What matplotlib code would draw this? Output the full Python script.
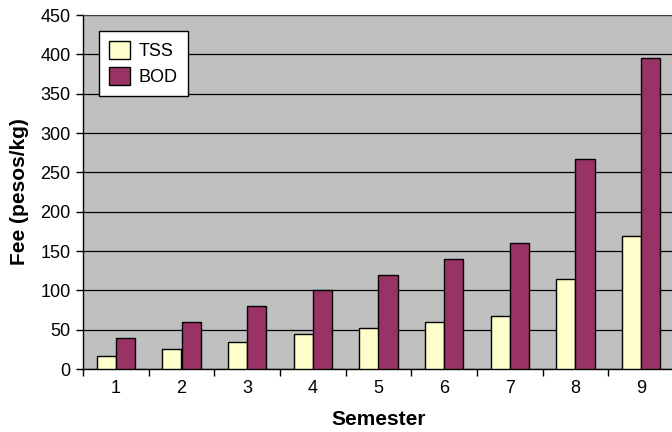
import numpy as np
import matplotlib
matplotlib.use("Agg")
import matplotlib.pyplot as plt
from matplotlib.ticker import FixedLocator

# data
semesters = [1, 2, 3, 4, 5, 6, 7, 8, 9]
tss_fee = [17, 25, 34, 44, 52, 60, 68, 115, 169]
bod_fee = [40, 60, 80, 100, 120, 140, 160, 267, 395]

plt.rcParams["font.family"] = ["Liberation Sans", "DejaVu Sans"]

fig = plt.figure(figsize=(6.72, 4.32), dpi=100)
ax = fig.add_axes([83 / 672, 63 / 432, 591 / 672, 354 / 432])
ax.set_facecolor("#C0C0C0")

x = np.arange(1, len(semesters) + 1)
width = 0.29
ax.bar(x - width / 2, tss_fee, width, color="#FFFFCC", edgecolor="black",
       linewidth=1.0, label="TSS", zorder=3)
ax.bar(x + width / 2, bod_fee, width, color="#993366", edgecolor="black",
       linewidth=1.0, label="BOD", zorder=3)

ax.set_xlim(0.5, len(semesters) + 0.5)
ax.set_ylim(0, 450)
ax.set_yticks(np.arange(0, 451, 50))
ax.yaxis.grid(True, color="black", linewidth=0.9, zorder=1)
ax.set_axisbelow(True)

ax.set_xticks(x)
ax.set_xticklabels([str(s) for s in semesters])
ax.xaxis.set_minor_locator(FixedLocator(np.arange(0.5, len(semesters) + 1, 1)))
ax.tick_params(axis="x", which="major", length=0, pad=8, labelsize=13)
ax.tick_params(axis="x", which="minor", length=5, width=1, direction="out")
ax.tick_params(axis="y", length=5, width=1, direction="out", pad=4, labelsize=13)

for side in ["left", "bottom"]:
    ax.spines[side].set_color("black")
    ax.spines[side].set_linewidth(1.0)
ax.spines["top"].set_color("#404040")
ax.spines["right"].set_visible(False)

ax.set_xlabel("Semester", fontsize=15, fontweight="bold", labelpad=9)
ax.set_ylabel("Fee (pesos/kg)", fontsize=15, fontweight="bold", labelpad=8)

leg = ax.legend(loc="upper left", bbox_to_anchor=(99 / 672, 1 - 31 / 432),
                bbox_transform=fig.transFigure, borderaxespad=0,
                fancybox=False, framealpha=1, edgecolor="black",
                fontsize=13, handlelength=1.15, handleheight=1.15,
                handletextpad=0.5, borderpad=0.55, labelspacing=0.4)
leg.get_frame().set_linewidth(1.0)

fig.savefig("out.png", dpi=100)
